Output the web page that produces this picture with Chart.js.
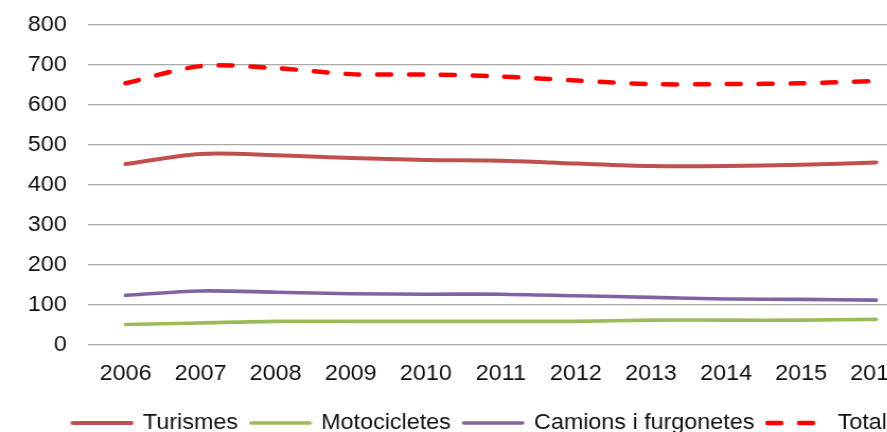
<!DOCTYPE html>
<html>
<head>
<meta charset="utf-8">
<script src="https://cdn.jsdelivr.net/npm/chart.js@4/dist/chart.umd.min.js"></script>
<style>
  html, body { margin: 0; padding: 0; background: #fff; overflow: hidden; width: 887px; height: 432px; }
  #wrap { width: 862px; height: 444px; transform: scaleX(1.06); transform-origin: 0 0; }
  canvas { display: block; }
</style>
</head>
<body>
<div id="wrap"><canvas id="chart" width="862" height="444"></canvas></div>
<script>
// Vehicle counts per year (thousands)
const years = ['2006', '2007', '2008', '2009', '2010', '2011', '2012', '2013', '2014', '2015', '2016'];
const turismes = [452, 477, 474, 467, 462, 460, 453, 447, 447, 450, 456];
const motocicletes = [50, 54, 58, 58, 58, 58, 58, 61, 61, 61, 63];
const camions = [123, 134, 131, 127, 126, 126, 122, 118, 114, 113, 111];
const total = [654, 697, 692, 677, 676, 671, 661, 652, 652, 654, 660];
const yTicks = [0, 100, 200, 300, 400, 500, 600, 700, 800];

const FONT = { family: '"Liberation Sans", Arial, sans-serif', size: 22 };
const TEXT = '#111111';

// Small line sample used as the legend marker of each series.
function swatch(color, width, dash) {
  const c = document.createElement('canvas');
  c.width = 60;
  c.height = 10;
  const g = c.getContext('2d');
  g.strokeStyle = color;
  g.lineWidth = width;
  g.lineCap = 'round';
  g.setLineDash(dash || []);
  g.beginPath();
  g.moveTo(2.25, 5);
  g.lineTo(57.75, 5);
  g.stroke();
  return c;
}

function series(label, data, color, width, dash) {
  const ds = {
    label, data,
    borderColor: color,
    backgroundColor: color,
    borderWidth: width,
    pointRadius: 0,
    pointHoverRadius: 0,
    pointStyle: swatch(color, width, dash),
    tension: 0.3,
    borderCapStyle: 'round',
    fill: false
  };
  if (dash) ds.borderDash = dash;
  return ds;
}

// Nudges the legend row sideways so it sits centred under the full plot width.
const legendShift = {
  id: 'legendShift',
  afterLayout(chart, args, opts) {
    const lg = chart.legend;
    if (lg) { lg.left += opts.dx; lg.right += opts.dx; }
  }
};

// Scales should not reserve extra room around the plot for their end labels.
function noEdgePadding(scale) {
  scale.paddingTop = 0;
  scale.paddingBottom = 0;
  scale.paddingLeft = 0;
  scale.paddingRight = 0;
}

new Chart(document.getElementById('chart'), {
  type: 'line',
  data: {
    labels: years,
    datasets: [
      series('Turismes', turismes, '#C0504D', 4),
      series('Motocicletes', motocicletes, '#9BBB59', 3.6),
      series('Camions i furgonetes', camions, '#8064A2', 3.6),
      series('Total', total, '#FF0000', 4.5, [13, 17])
    ]
  },
  plugins: [legendShift],
  options: {
    responsive: false,
    animation: false,
    layout: { padding: { left: 6.3, right: 0, top: 25, bottom: 0 } },
    plugins: {
      tooltip: { enabled: false },
      legendShift: { dx: 18.6 },
      legend: {
        position: 'bottom',
        align: 'center',
        labels: {
          font: FONT,
          color: TEXT,
          usePointStyle: true,
          pointStyleWidth: 55,
          boxHeight: 22,
          padding: 12.5
        }
      }
    },
    scales: {
      x: {
        offset: true,
        grid: { display: false, drawTicks: false },
        border: { display: false },
        ticks: { font: FONT, color: TEXT, padding: 16.5, maxRotation: 0, autoSkip: false },
        afterFit(scale) { scale.height = 55; noEdgePadding(scale); }
      },
      y: {
        min: 0,
        max: 800,
        afterBuildTicks(scale) { scale.ticks = yTicks.map(v => ({ value: v })); },
        grid: { color: '#a8a8a8', lineWidth: 1.3, drawTicks: false },
        border: { display: false },
        ticks: { font: FONT, color: TEXT, padding: 20 },
        afterFit(scale) { noEdgePadding(scale); }
      }
    }
  }
});
</script>
</body>
</html>
